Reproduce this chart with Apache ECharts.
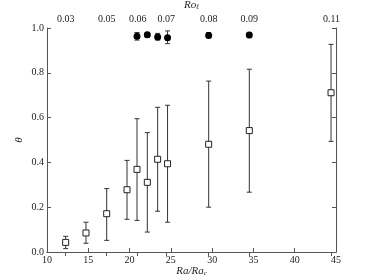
<!DOCTYPE html>
<html><head><meta charset="utf-8">
<script src="https://cdn.jsdelivr.net/npm/echarts@6/dist/echarts.min.js"></script>
<style>html,body{margin:0;padding:0;background:#fff}#c{width:374px;height:280px}</style>
</head><body><div id="c"></div>
<script>
// Open squares: Ra/Ra_c, theta, lower and upper error bar ends
const raSq = [12.26, 14.72, 17.23, 19.69, 20.9, 22.15, 23.4, 24.6, 29.58, 34.5, 44.4];
const thetaSq = [0.043, 0.085, 0.171, 0.278, 0.369, 0.311, 0.414, 0.394, 0.481, 0.542, 0.711];
const sqLow = [0.015, 0.039, 0.052, 0.146, 0.141, 0.089, 0.182, 0.133, 0.200, 0.267, 0.494];
const sqHigh = [0.070, 0.133, 0.283, 0.409, 0.595, 0.533, 0.646, 0.655, 0.763, 0.816, 0.927];
// Filled circles
const raCi = [20.9, 22.15, 23.4, 24.6, 29.58, 34.5];
const thetaCi = [0.963, 0.970, 0.960, 0.957, 0.967, 0.969];
const ciLow = [0.946, 0.960, 0.946, 0.930, 0.957, 0.957];
const ciHigh = [0.980, 0.980, 0.976, 0.987, 0.980, 0.980];
// Top axis (Ro_l) ticks
const roPos = [12.26, 17.23, 20.98, 24.45, 29.58, 34.5, 44.45];
const roLabels = ['0.03', '0.05', '0.06', '0.07', '0.08', '0.09', '0.11'];
// Bottom / left ticks
const xTicks = [10, 15, 20, 25, 30, 35, 40, 45];
const yTicks = [0.0, 0.2, 0.4, 0.6, 0.8, 1.0];

const FONT = 'Liberation Serif';
const TXT = '#222';
const LINE = '#555';

function errData(xs, lo, hi) { return xs.map((x, i) => [x, lo[i], hi[i]]); }
function errRender(params, api) {
  const x = api.value(0), lo = api.value(1), hi = api.value(2);
  const pLo = api.coord([x, lo]), pHi = api.coord([x, hi]);
  const w = 2.5;
  const st = { stroke: '#333', lineWidth: 1 };
  return { type: 'group', children: [
    { type: 'line', shape: { x1: pLo[0], y1: pLo[1], x2: pHi[0], y2: pHi[1] }, style: st },
    { type: 'line', shape: { x1: pLo[0] - w, y1: pLo[1], x2: pLo[0] + w, y2: pLo[1] }, style: st },
    { type: 'line', shape: { x1: pHi[0] - w, y1: pHi[1], x2: pHi[0] + w, y2: pHi[1] }, style: st }
  ]};
}

const chart = echarts.init(document.getElementById('c'));
chart.setOption({
  animation: false,
  textStyle: { fontFamily: FONT, color: TXT },
  grid: { left: 47, right: 38, top: 28, bottom: 28, containLabel: false, outerBoundsMode: 'none' },
  xAxis: [
    { type: 'value', min: 10, max: 45, interval: 5, position: 'bottom',
      splitLine: { show: false },
      axisLine: { show: true, lineStyle: { color: LINE, width: 1 } },
      axisTick: { show: true, inside: true, length: 4, lineStyle: { color: LINE } },
      axisLabel: { fontFamily: FONT, fontSize: 10, color: TXT, margin: 3,
        formatter: v => (xTicks.indexOf(v) >= 0 ? String(v) : '') },
      name: '{i|Ra/Ra}{s|c}', nameLocation: 'middle', nameGap: 13, nameMoveOverlap: false,
      nameTextStyle: { rich: {
        i: { fontFamily: FONT, fontStyle: 'italic', fontSize: 11, color: TXT },
        s: { fontFamily: FONT, fontStyle: 'italic', fontSize: 7, color: TXT, padding: [5, 0, 0, 0] } } } },
    { type: 'value', min: 10, max: 45, position: 'top',
      splitLine: { show: false },
      axisLine: { show: true, lineStyle: { color: LINE, width: 1 } },
      axisTick: { show: true, inside: true, length: 4, lineStyle: { color: LINE }, customValues: roPos },
      axisLabel: { fontFamily: FONT, fontSize: 10, color: TXT, margin: 4, customValues: roPos,
        formatter: v => { let b = 0; roPos.forEach((p, i) => { if (Math.abs(p - v) < Math.abs(roPos[b] - v)) b = i; }); return roLabels[b]; } },
      name: '{i|Ro}{s|ℓ}', nameLocation: 'middle', nameGap: 17, nameMoveOverlap: false,
      nameTextStyle: { rich: {
        i: { fontFamily: FONT, fontStyle: 'italic', fontSize: 11, color: TXT },
        s: { fontFamily: FONT, fontStyle: 'italic', fontSize: 7, color: TXT, padding: [5, 0, 0, 0] } } } }
  ],
  yAxis: [
    { type: 'value', min: 0, max: 1, interval: 0.2, position: 'left',
      splitLine: { show: false },
      axisLine: { show: true, lineStyle: { color: LINE, width: 1 } },
      axisTick: { show: true, inside: true, length: 4, lineStyle: { color: LINE } },
      axisLabel: { fontFamily: FONT, fontSize: 10, color: TXT, margin: 3, formatter: v => v.toFixed(1) },
      name: 'θ', nameLocation: 'middle', nameGap: 22, nameRotate: 90, nameMoveOverlap: false,
      nameTextStyle: { fontFamily: FONT, fontStyle: 'italic', fontSize: 11, color: TXT } },
    { type: 'value', min: 0, max: 1, interval: 0.2, position: 'right',
      splitLine: { show: false },
      axisLine: { show: true, lineStyle: { color: LINE, width: 1 } },
      axisTick: { show: true, inside: true, length: 4, lineStyle: { color: LINE } },
      axisLabel: { show: false } }
  ],
  series: [
    { type: 'custom', xAxisIndex: 0, yAxisIndex: 0, renderItem: errRender,
      data: errData(raSq, sqLow, sqHigh), encode: { x: 0, y: [1, 2] }, z: 1 },
    { type: 'custom', xAxisIndex: 0, yAxisIndex: 0, renderItem: errRender,
      data: errData(raCi, ciLow, ciHigh), encode: { x: 0, y: [1, 2] }, z: 1 },
    { type: 'scatter', xAxisIndex: 0, yAxisIndex: 0, symbol: 'rect', symbolSize: 6,
      itemStyle: { color: '#fff', borderColor: '#222', borderWidth: 1, opacity: 1 },
      data: raSq.map((x, i) => [x, thetaSq[i]]), z: 3 },
    { type: 'scatter', xAxisIndex: 0, yAxisIndex: 0, symbol: 'circle', symbolSize: 7,
      itemStyle: { color: '#000', opacity: 1 },
      data: raCi.map((x, i) => [x, thetaCi[i]]), z: 3 }
  ]
});
</script></body></html>
